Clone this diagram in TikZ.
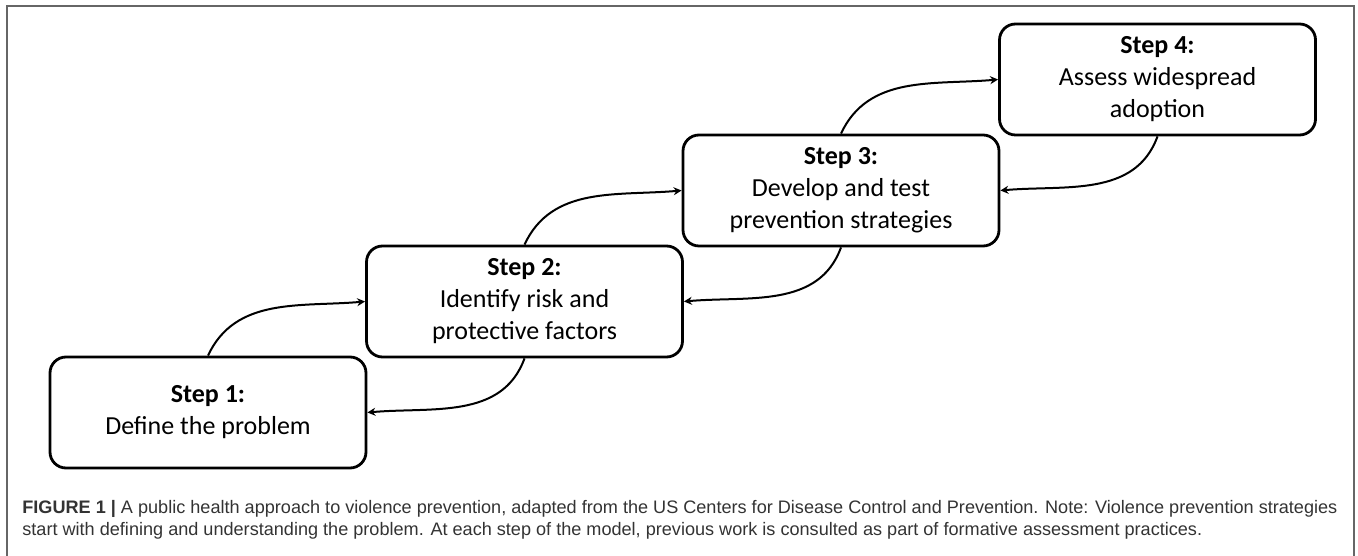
\documentclass[tikz,border=0pt]{standalone}
\usepackage{fontspec}
\setmainfont{Carlito}
\newfontfamily\capfont{Liberation Sans}
\usepackage{tikz}
\usetikzlibrary{arrows.meta}

\begin{document}
\begin{tikzpicture}[x=0.5pt,y=0.5pt,stepbox/.style={
      draw=black,
      line width=1.4pt,
      rounded corners=8pt,
      minimum width=158pt,
      minimum height=55.5pt,
      align=center,
      font=\fontsize{13}{16}\selectfont
    }]
\tikzset{edge/.style = {->,> = {Stealth[length=4pt,width=4pt]},line width=1pt}}
\useasboundingbox (0,0) rectangle (1358,556);
%\draw (0,0) rectangle (1358,556);
\draw[line width=1pt,black!60] (7,0) |- (1354,550) -- (1354,0);
\node[stepbox] (a) at (208,143.5) {\textbf{Step 1:}\\Define the problem};
\node[stepbox] (b) at (524.5,254.5) {\textbf{Step 2:}\\Identify risk and\\protective factors};
\node[stepbox] (c) at (841,365.5) {\textbf{Step 3:}\\Develop and test\\prevention strategies};
\node[stepbox] (d) at (1157.5,476.5) {\textbf{Step 4:}\\Assess widespread\\adoption};
\draw[edge] (a.north) to[out=65,in=185] (b.west);
\draw[edge] (b.north) to[out=65,in=185] (c.west);
\draw[edge] (c.north) to[out=65,in=185] (d.west);
\draw[edge] (b.south) to[out=250,in=5] (a.east);
\draw[edge] (c.south) to[out=250,in=5] (b.east);
\draw[edge] (d.south) to[out=250,in=5] (c.east);
\node[anchor=west,inner sep=0,align=left,text=black!80,
  font=\capfont\fontsize{9.05}{11}\selectfont] (e) at (22,36.5)
  {\textbf{FIGURE 1 |} A public health approach to violence prevention, adapted from the US Centers for Disease Control and Prevention. Note: Violence prevention strategies\\
   start with defining and understanding the problem. At each step of the model, previous work is consulted as part of formative assessment practices.};
\end{tikzpicture}
\end{document}
